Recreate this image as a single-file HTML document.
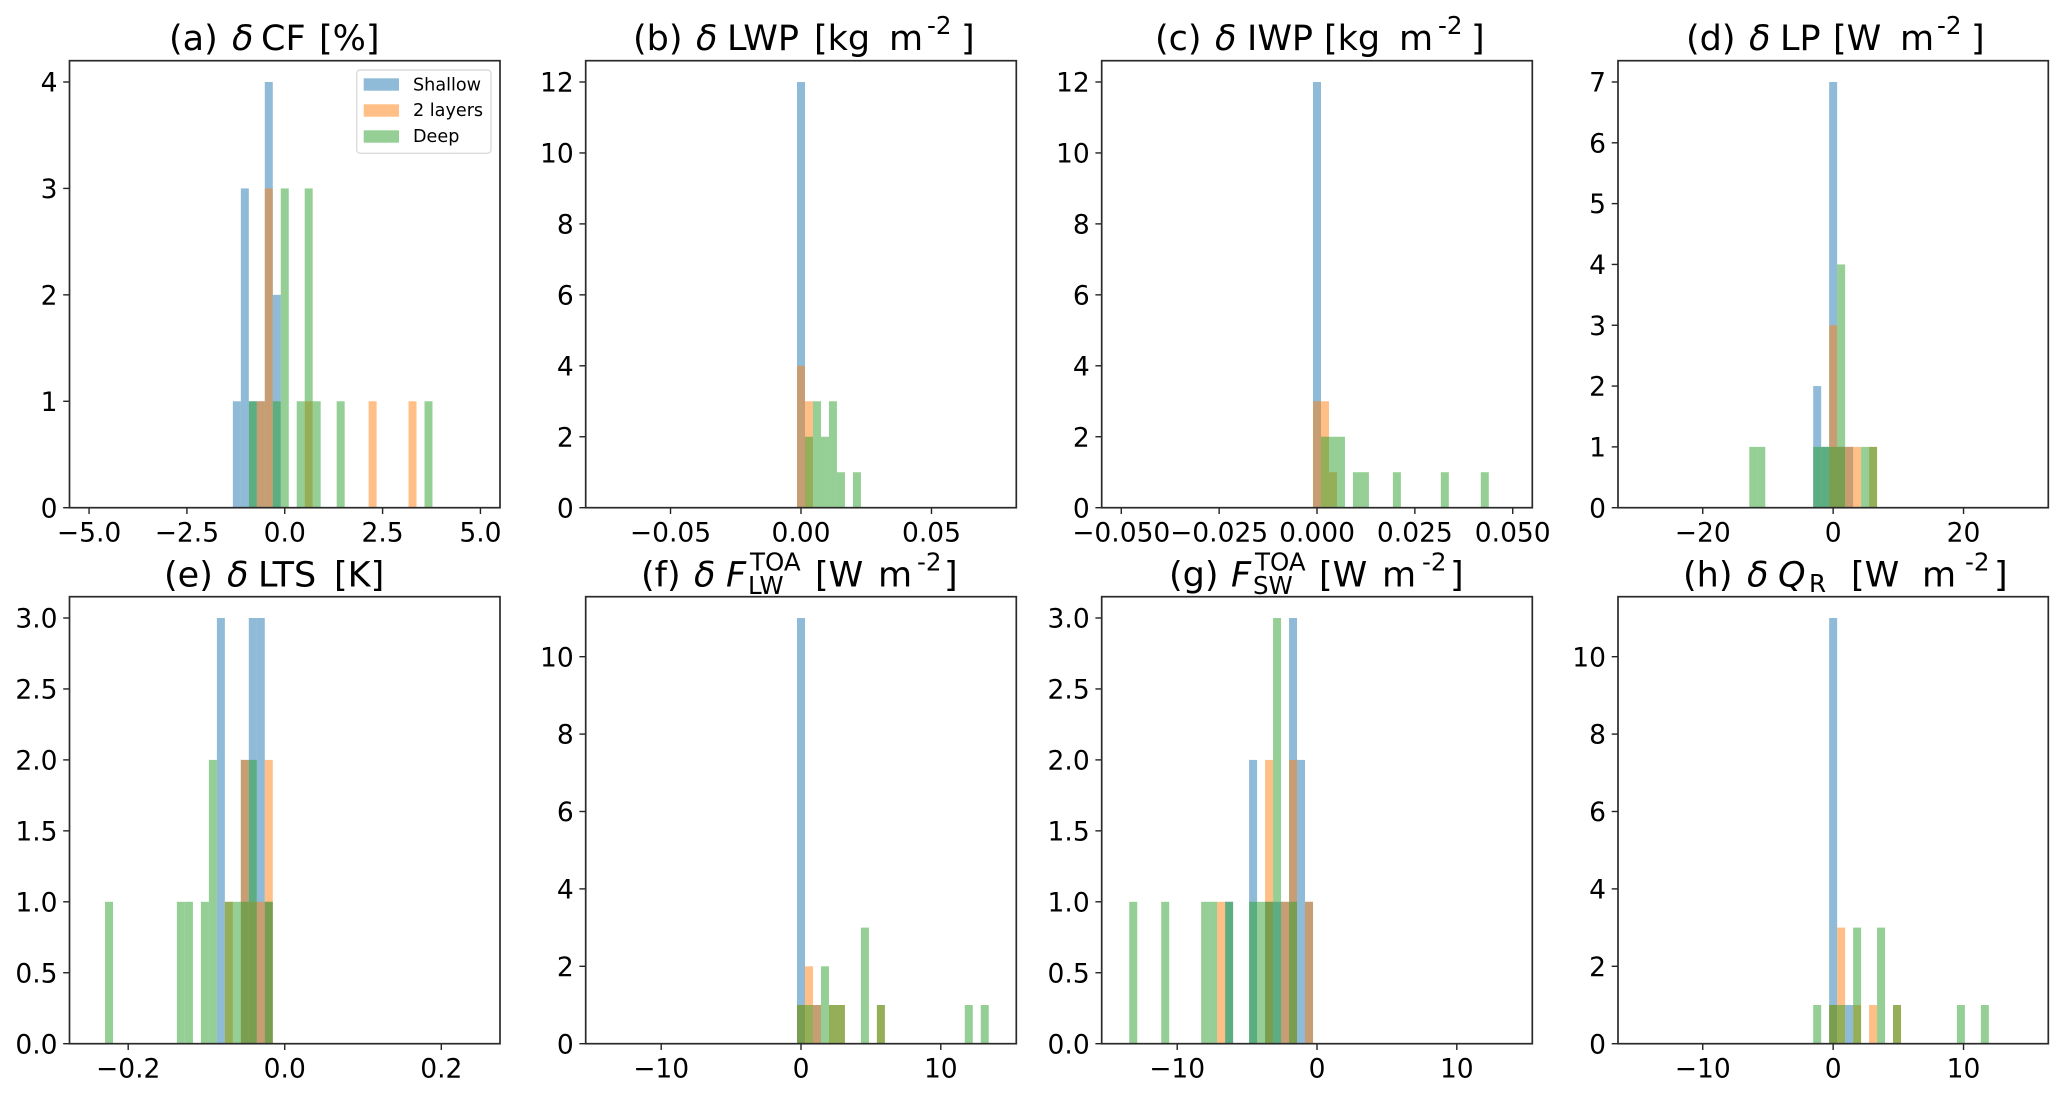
<!DOCTYPE html>
<html lang="en">
<head>
<meta charset="utf-8">
<title>Histograms of cloud and radiation changes</title>
<style>
  html, body { margin: 0; padding: 0; background: #fff; }
  svg { display: block; }
  text { font-family: "DejaVu Sans", "Liberation Sans", sans-serif; fill: #000; white-space: pre; }
  .title { font-size: 35px; }
  .tick { font-size: 26.5px; }
  .sm { font-size: 24.5px; }
  .it { font-style: italic; }
  .leg { font-size: 17.6px; }
</style>
</head>
<body>
<svg id="figure" xmlns="http://www.w3.org/2000/svg" width="2067" height="1094" viewBox="0 0 2067 1094">
  <rect x="0" y="0" width="2067" height="1094" fill="#fff"/>

  <text class="title" y="50"><tspan x="169">(a)</tspan><tspan x="232" class="it">δ</tspan><tspan x="261">CF</tspan><tspan x="319">[%]</tspan></text>
  <text class="title" y="50"><tspan x="633">(b)</tspan><tspan x="696" class="it">δ</tspan><tspan x="727">LWP</tspan><tspan x="814">[kg</tspan><tspan x="889">m</tspan><tspan x="927" y="34" class="sm">-2</tspan><tspan x="961" y="50">]</tspan></text>
  <text class="title" y="50"><tspan x="1155">(c)</tspan><tspan x="1215" class="it">δ</tspan><tspan x="1247">IWP</tspan><tspan x="1324">[kg</tspan><tspan x="1399">m</tspan><tspan x="1438" y="34" class="sm">-2</tspan><tspan x="1471" y="50">]</tspan></text>
  <text class="title" y="50"><tspan x="1686">(d)</tspan><tspan x="1749" class="it">δ</tspan><tspan x="1780">LP</tspan><tspan x="1833">[W</tspan><tspan x="1900">m</tspan><tspan x="1937" y="34" class="sm">-2</tspan><tspan x="1971" y="50">]</tspan></text>

  <text class="title" y="586.5"><tspan x="164">(e)</tspan><tspan x="227" class="it">δ</tspan><tspan x="258">LTS</tspan><tspan x="334">[K]</tspan></text>
  <text class="title" y="586.5"><tspan x="641">(f)</tspan><tspan x="694" class="it">δ</tspan><tspan x="726" class="it">F</tspan><tspan x="750" y="570.5" class="sm">TOA</tspan><tspan x="748" y="594" class="sm">LW</tspan><tspan x="815" y="586.5">[W</tspan><tspan x="878">m</tspan><tspan x="917" y="570.5" class="sm">-2</tspan><tspan x="944" y="586.5">]</tspan></text>
  <text class="title" y="586.5"><tspan x="1169">(g)</tspan><tspan x="1231" class="it">F</tspan><tspan x="1255" y="570.5" class="sm">TOA</tspan><tspan x="1253" y="594" class="sm">SW</tspan><tspan x="1319" y="586.5">[W</tspan><tspan x="1382">m</tspan><tspan x="1422" y="570.5" class="sm">-2</tspan><tspan x="1450" y="586.5">]</tspan></text>
  <text class="title" y="586.5"><tspan x="1683">(h)</tspan><tspan x="1747" class="it">δ</tspan><tspan x="1778" class="it">Q</tspan><tspan x="1809" y="592" class="sm">R</tspan><tspan x="1851" y="586.5">[W</tspan><tspan x="1922">m</tspan><tspan x="1965" y="570.5" class="sm">-2</tspan><tspan x="1994" y="586.5">]</tspan></text>

  <g id="panels"></g>

  <g>
    <rect x="356.7" y="70" width="134.3" height="83.3" rx="3.5" fill="#fff" fill-opacity="0.8" stroke="#dcdcdc" stroke-width="1.4"/>
    <rect x="363.7" y="78.3" width="35.3" height="12.4" fill="#1f77b4" fill-opacity="0.5"/>
    <text class="leg" x="413" y="90.3">Shallow</text>
    <rect x="363.7" y="104.3" width="35.3" height="12.4" fill="#ff7f0e" fill-opacity="0.5"/>
    <text class="leg" x="413" y="116">2 layers</text>
    <rect x="363.7" y="130.3" width="35.3" height="12.4" fill="#2ca02c" fill-opacity="0.5"/>
    <text class="leg" x="413" y="142">Deep</text>
  </g>
</svg>

<script>
// Panel (a) delta CF
const aBins = [-1.224, -1.020, -0.816, -0.612, -0.408, -0.204, 0, 0.408, 0.612, 0.816, 1.429, 2.245, 3.265, 3.673];
const aShallow = [1, 3, 1, 1, 4, 2, 0, 0, 0, 0, 0, 0, 0, 0];
const aLayers = [0, 0, 0, 1, 3, 0, 0, 0, 1, 0, 0, 1, 1, 0];
const aDeep = [0, 0, 1, 0, 0, 1, 3, 1, 3, 1, 1, 0, 0, 1];
const aXTicks = [-5, -2.5, 0, 2.5, 5];
const aXLabels = ["−5.0", "−2.5", "0.0", "2.5", "5.0"];
const aYTicks = [0, 1, 2, 3, 4];
const aYLabels = ["0", "1", "2", "3", "4"];

// Panel (b) delta LWP
const bBins = [0, 0.00306, 0.00612, 0.00918, 0.01224, 0.01531, 0.02143];
const bShallow = [12, 0, 0, 0, 0, 0, 0];
const bLayers = [4, 3, 0, 0, 0, 0, 0];
const bDeep = [0, 2, 3, 2, 3, 1, 1];
const bXTicks = [-0.05, 0, 0.05];
const bXLabels = ["−0.05", "0.00", "0.05"];
const bYTicks = [0, 2, 4, 6, 8, 10, 12];
const bYLabels = ["0", "2", "4", "6", "8", "10", "12"];

// Panel (c) delta IWP
const cBins = [0, 0.00204, 0.00408, 0.00612, 0.0102, 0.01224, 0.02041, 0.03265, 0.04286];
const cShallow = [12, 0, 0, 0, 0, 0, 0, 0, 0];
const cLayers = [3, 3, 1, 0, 0, 0, 0, 0, 0];
const cDeep = [0, 2, 2, 2, 1, 1, 1, 1, 1];
const cXTicks = [-0.05, -0.025, 0, 0.025, 0.05];
const cXLabels = ["−0.050", "−0.025", "0.000", "0.025", "0.050"];
const cYTicks = [0, 2, 4, 6, 8, 10, 12];
const cYLabels = ["0", "2", "4", "6", "8", "10", "12"];

// Panel (d) delta LP
const dBins = [-12.245, -11.02, -2.449, -1.224, 0, 1.224, 2.449, 3.673, 4.898, 6.122];
const dShallow = [0, 0, 2, 1, 7, 1, 1, 0, 0, 0];
const dLayers = [0, 0, 0, 0, 3, 1, 1, 1, 0, 1];
const dDeep = [1, 1, 1, 1, 1, 4, 0, 0, 1, 1];
const dXTicks = [-20, 0, 20];
const dXLabels = ["−20", "0", "20"];
const dYTicks = [0, 1, 2, 3, 4, 5, 6, 7];
const dYLabels = ["0", "1", "2", "3", "4", "5", "6", "7"];

// Panel (e) delta LTS
const eBins = [-0.2245, -0.1327, -0.1224, -0.102, -0.0918, -0.0816, -0.0714, -0.0612, -0.051, -0.0408, -0.0306, -0.0204];
const eShallow = [0, 0, 0, 0, 0, 3, 0, 0, 2, 3, 3, 1];
const eLayers = [0, 0, 0, 0, 0, 0, 1, 0, 2, 1, 1, 2];
const eDeep = [1, 1, 1, 1, 2, 0, 1, 1, 1, 2, 0, 1];
const eXTicks = [-0.2, 0, 0.2];
const eXLabels = ["−0.2", "0.0", "0.2"];
const eYTicks = [0, 0.5, 1, 1.5, 2, 2.5, 3];
const eYLabels = ["0.0", "0.5", "1.0", "1.5", "2.0", "2.5", "3.0"];

// Panel (f) delta F LW TOA
const fBins = [0, 0.571, 1.143, 1.714, 2.286, 2.857, 4.571, 5.714, 12, 13.143];
const fShallow = [11, 0, 1, 0, 0, 0, 0, 0, 0, 0];
const fLayers = [1, 2, 1, 0, 1, 1, 0, 1, 0, 0];
const fDeep = [1, 1, 0, 2, 1, 1, 3, 1, 1, 1];
const fXTicks = [-10, 0, 10];
const fXLabels = ["−10", "0", "10"];
const fYTicks = [0, 2, 4, 6, 8, 10];
const fYLabels = ["0", "2", "4", "6", "8", "10"];

// Panel (g) F SW TOA
const gBins = [-13.143, -10.857, -8, -7.429, -6.857, -6.286, -4.571, -4, -3.429, -2.857, -2.286, -1.714, -1.143, -0.571];
const gShallow = [0, 0, 0, 0, 0, 1, 2, 0, 1, 1, 1, 3, 2, 1];
const gLayers = [0, 0, 0, 0, 1, 0, 0, 0, 2, 0, 1, 2, 0, 1];
const gDeep = [1, 1, 1, 1, 0, 1, 1, 1, 1, 3, 0, 1, 0, 0];
const gXTicks = [-10, 0, 10];
const gXLabels = ["−10", "0", "10"];
const gYTicks = [0, 0.5, 1, 1.5, 2, 2.5, 3];
const gYLabels = ["0.0", "0.5", "1.0", "1.5", "2.0", "2.5", "3.0"];

// Panel (h) delta Q R
const hBins = [-1.224, 0, 0.612, 1.224, 1.837, 3.061, 3.673, 4.898, 9.796, 11.633];
const hShallow = [0, 11, 0, 1, 0, 0, 0, 0, 0, 0];
const hLayers = [0, 1, 3, 0, 1, 1, 0, 1, 0, 0];
const hDeep = [1, 1, 1, 0, 3, 0, 3, 1, 1, 1];
const hXTicks = [-10, 0, 10];
const hXLabels = ["−10", "0", "10"];
const hYTicks = [0, 2, 4, 6, 8, 10];
const hYLabels = ["0", "2", "4", "6", "8", "10"];

const NS = "http://www.w3.org/2000/svg";
const BIN_COUNT = 49;
const COLORS = { shallow: "#1f77b4", layers: "#ff7f0e", deep: "#2ca02c" };

function make(tag, parent, attrs) {
  const el = document.createElementNS(NS, tag);
  for (const k in attrs) el.setAttribute(k, attrs[k]);
  parent.appendChild(el);
  return el;
}

function drawSeries(g, key, bins, counts, w, xScale, yScale) {
  bins.forEach(function (center, i) {
    if (!counts[i]) return;
    const x0 = xScale(center - w / 2);
    const x1 = xScale(center + w / 2);
    const y1 = yScale(counts[i]);
    const bar = make("rect", g, {
      x: x0, y: y1, width: x1 - x0, height: yScale(0) - y1,
      fill: COLORS[key], "fill-opacity": 0.5
    });
    
    
  });
}

function drawPanel(p) {
  const root = document.getElementById("panels");
  const g = make("g", root, {});
  
  

  const half = p.range * 1.1;
  const xScale = function (v) { return p.left + (v + half) / (2 * half) * (p.right - p.left); };
  const yScale = function (v) { return p.bottom - v / p.yMax * (p.bottom - p.top); };
  const w = 2 * p.range / BIN_COUNT;

  drawSeries(g, "shallow", p.bins, p.shallow, w, xScale, yScale);
  drawSeries(g, "layers", p.bins, p.layers, w, xScale, yScale);
  drawSeries(g, "deep", p.bins, p.deep, w, xScale, yScale);

  p.xTicks.forEach(function (t, i) {
    const x = xScale(t);
    const mark = make("line", g, { x1: x, x2: x, y1: p.bottom, y2: p.bottom + 6.3, stroke: "#222", "stroke-width": 1.4 });
    
    
    const label = make("text", g, { x: x, y: p.bottom + 34, "text-anchor": "middle", class: "tick" });
    
    
    label.textContent = p.xLabels[i];
  });

  p.yTicks.forEach(function (t, i) {
    const y = yScale(t);
    const mark = make("line", g, { x1: p.left - 6.3, x2: p.left, y1: y, y2: y, stroke: "#222", "stroke-width": 1.4 });
    
    
    const label = make("text", g, { x: p.left - 12, y: y + 9.6, "text-anchor": "end", class: "tick" });
    
    
    label.textContent = p.yLabels[i];
  });

  const frame = make("rect", g, {
    x: p.left, y: p.top, width: p.right - p.left, height: p.bottom - p.top,
    fill: "none", stroke: "#2a2a2a", "stroke-width": 1.7
  });
  
  
}

const ROW1 = { top: 60.7, bottom: 507.7 };
const ROW2 = { top: 596.7, bottom: 1043.7 };

drawPanel({ left: 69.5, right: 500, top: ROW1.top, bottom: ROW1.bottom, range: 5, yMax: 4.2,
  bins: aBins, shallow: aShallow, layers: aLayers, deep: aDeep, xTicks: aXTicks, xLabels: aXLabels, yTicks: aYTicks, yLabels: aYLabels });
drawPanel({ left: 585.7, right: 1016.3, top: ROW1.top, bottom: ROW1.bottom, range: 0.075, yMax: 12.6,
  bins: bBins, shallow: bShallow, layers: bLayers, deep: bDeep, xTicks: bXTicks, xLabels: bXLabels, yTicks: bYTicks, yLabels: bYLabels });
drawPanel({ left: 1101.7, right: 1532.3, top: ROW1.top, bottom: ROW1.bottom, range: 0.05, yMax: 12.6,
  bins: cBins, shallow: cShallow, layers: cLayers, deep: cDeep, xTicks: cXTicks, xLabels: cXLabels, yTicks: cYTicks, yLabels: cYLabels });
drawPanel({ left: 1618, right: 2048.3, top: ROW1.top, bottom: ROW1.bottom, range: 30, yMax: 7.35,
  bins: dBins, shallow: dShallow, layers: dLayers, deep: dDeep, xTicks: dXTicks, xLabels: dXLabels, yTicks: dYTicks, yLabels: dYLabels });
drawPanel({ left: 69.5, right: 500, top: ROW2.top, bottom: ROW2.bottom, range: 0.25, yMax: 3.15,
  bins: eBins, shallow: eShallow, layers: eLayers, deep: eDeep, xTicks: eXTicks, xLabels: eXLabels, yTicks: eYTicks, yLabels: eYLabels });
drawPanel({ left: 585.7, right: 1016.3, top: ROW2.top, bottom: ROW2.bottom, range: 14, yMax: 11.55,
  bins: fBins, shallow: fShallow, layers: fLayers, deep: fDeep, xTicks: fXTicks, xLabels: fXLabels, yTicks: fYTicks, yLabels: fYLabels });
drawPanel({ left: 1101.7, right: 1532.3, top: ROW2.top, bottom: ROW2.bottom, range: 14, yMax: 3.15,
  bins: gBins, shallow: gShallow, layers: gLayers, deep: gDeep, xTicks: gXTicks, xLabels: gXLabels, yTicks: gYTicks, yLabels: gYLabels });
drawPanel({ left: 1618, right: 2048.3, top: ROW2.top, bottom: ROW2.bottom, range: 15, yMax: 11.55,
  bins: hBins, shallow: hShallow, layers: hLayers, deep: hDeep, xTicks: hXTicks, xLabels: hXLabels, yTicks: hYTicks, yLabels: hYLabels });
</script>
</body>
</html>
